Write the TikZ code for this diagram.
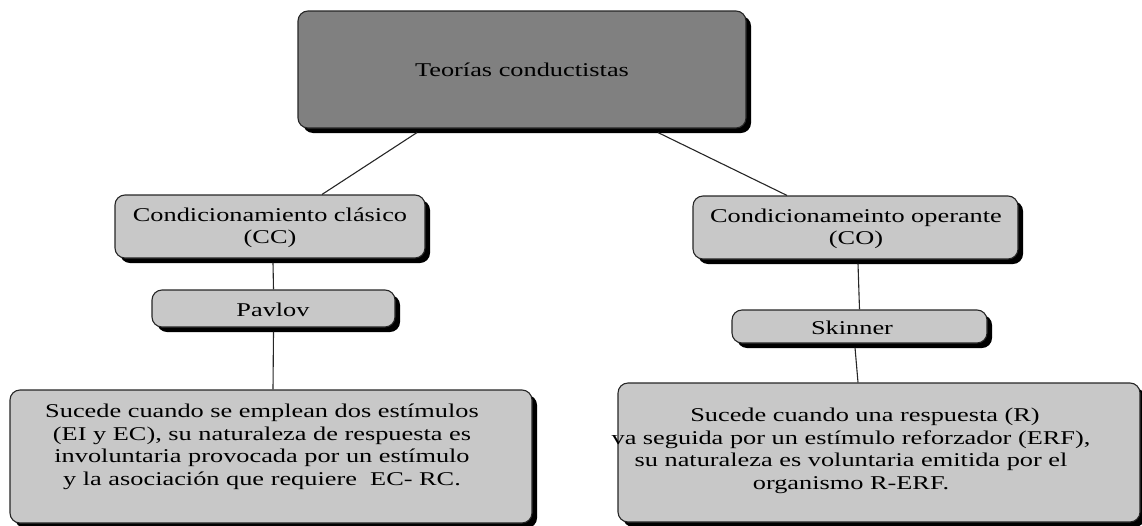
\documentclass[tikz,border=0pt]{standalone}
\usepackage{fontspec}
\setmainfont{Liberation Serif}[FakeStretch=1.35]
\usetikzlibrary{shadows}
\definecolor{boxlight}{RGB}{200,200,200}
\definecolor{boxdark}{RGB}{128,128,128}
\tikzset{
  base/.style={draw=black!85, line width=1.1pt, rounded corners=10pt, inner sep=0pt,
    drop shadow={shadow xshift=5pt, shadow yshift=-5pt, fill=black, opacity=1}},
  lightbox/.style={base, fill=boxlight},
  darkbox/.style={base, fill=boxdark},
  txt/.style={align=center, font=\fontsize{19.5}{22.5}\selectfont, inner sep=0pt},
  conn/.style={draw=black!85, line width=1.1pt}
}
\begin{document}
\begin{tikzpicture}[x=1pt, y=-1pt]
\useasboundingbox (0,0) rectangle (1142,525);
% boxes
\node[darkbox, minimum width=448pt, minimum height=117pt] (top) at (522,69.5) {};
\node[txt] (toptxt) at (522,70) {Teorías conductistas};

\node[lightbox, minimum width=310pt, minimum height=63pt] (cc) at (270,226.5) {};
\node[txt] (cctxt) at (270,228) {Condicionamiento clásico\\(CC)};

\node[lightbox, minimum width=325pt, minimum height=63pt] (co) at (855.5,227.5) {};
\node[txt] (cotxt) at (856,229) {Condicionameinto operante\\(CO)};

\node[lightbox, minimum width=243pt, minimum height=37pt] (pav) at (273.5,308.5) {};
\node[txt] (pavtxt) at (273,310) {Pavlov};

\node[lightbox, minimum width=255pt, minimum height=33pt] (skin) at (859.5,326.5) {};
\node[txt] (skintxt) at (852,328) {Skinner};

\node[lightbox, minimum width=522pt, minimum height=133pt] (lbig) at (271,456.5) {};
\node[txt] (lbigtxt) at (262,447) {Sucede cuando se emplean dos estímulos\\(EI y EC), su naturaleza de respuesta es\\involuntaria provocada por un estímulo\\y la asociación que requiere~ EC- RC.};

\node[lightbox, minimum width=522pt, minimum height=139pt] (rbig) at (879,452.5) {};
\node[txt] (rbigtxt) at (851,451) {\hspace*{28pt}Sucede cuando una respuesta (R)\\va seguida por un estímulo reforzador (ERF),\\su naturaleza es voluntaria emitida por el\\organismo R-ERF.};

% connectors
\draw[conn] ([xshift=-105pt,yshift=-4pt]top.south) -- ([xshift=52pt]cc.north);
\draw[conn] ([xshift=136pt,yshift=-4pt]top.south) -- ([xshift=-68.5pt]co.north);
\draw[conn] ([xshift=3pt,yshift=-4pt]cc.south) -- (pav.north);
\draw[conn] ([yshift=-4pt]pav.south) -- ([xshift=2pt]lbig.north);
\draw[conn] ([xshift=2.5pt,yshift=-4pt]co.south) -- (skin.north);
\draw[conn] ([xshift=-4.5pt,yshift=-4pt]skin.south) -- ([xshift=-21pt]rbig.north);
\end{tikzpicture}
\end{document}
